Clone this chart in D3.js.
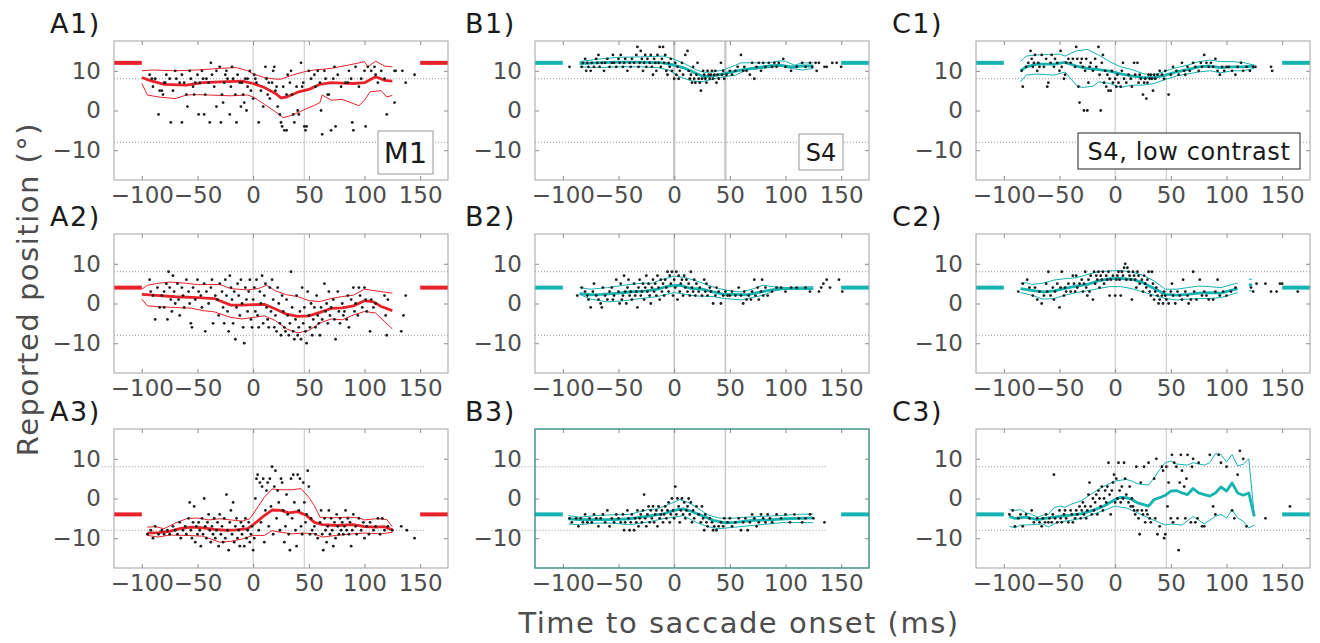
<!DOCTYPE html>
<html lang="en">
<head>
<meta charset="UTF-8">
<title>Reported position vs time to saccade onset</title>
<script src="https://d3js.org/d3.v7.min.js"></script>
<style>
  body { margin: 0; background: #fff; }
  text { font-family: "DejaVu Sans", Verdana, sans-serif; }
</style>
</head>
<body>
<script>
// ---- axes / reference values ----
const xTicks = [-100, -50, 0, 50, 100, 150];
const yTicks = [-10, 0, 10];
const targets = [12, 4, -4];        // target position, one per row
const saccadeLines = [0, 46];       // vertical reference lines (ms)
const boundLines = [8, -8];         // dotted horizontal lines (deg)

// ---- A: monkey M1 (red) ----
const a1Dots = [[-93,9],[-91,8],[-90,6],[-84,5],[-82,5],[-85,-1],[-81,4],[-79,7],[-78,9],[-74,-3],[-75,8],[-70,10],[-72,5],[-69,8],[-66,7],[-64,9],[-64,-3],[-60,4],[-59,1],[-57,10],[-56,8],[-54,6],[-53,4],[-49,-1],[-50,9],[-48,7],[-46,10],[-44,-1],[-43,4],[-42,8],[-39,-3],[-38,12],[-37,9],[-35,6],[-33,1],[-33,10],[-30,11],[-29,-3],[-28,4],[-27,2],[-24,10],[-23,8],[-21,-1],[-20,6],[-19,11],[-16,4],[-15,-3],[-14,9],[-12,7],[-11,1],[-9,4],[-8,2],[-7,8],[-6,0],[-5,6],[-3,10],[-2,5],[0,3],[1,9],[3,7],[5,-3],[7,5],[9,1],[11,11],[12,8],[13,4],[15,3],[17,7],[18,10],[19,11],[21,6],[22,1],[24,-1],[25,-3],[26,-4],[28,-5],[30,4],[30,-5],[31,9],[33,7],[34,10],[36,-1],[37,-3],[39,6],[40,0],[41,-1],[43,12],[44,6],[46,-4],[47,-5],[48,-4],[50,10],[52,8],[55,9],[56,6],[58,10],[61,0],[62,-6],[64,10],[67,4],[68,4],[70,-5],[73,11],[74,-4],[76,9],[79,6],[83,7],[86,10],[89,-3],[90,-5],[92,11],[95,6],[100,10],[101,-4],[103,11],[106,10],[109,11],[112,7],[115,10],[120,-1],[127,10],[128,10],[127,2],[134,10],[137,7],[145,9],
  [-88,8],[-62,7],[-52,7],[-40,7],[-26,7],[-18,8],[-10,7],[2,8],[14,7],[27,6],[45,7],[60,7],[72,8],[85,7],[97,8],[110,9],[-80,7],[-45,8],[-25,9],[-5,8],[20,5],[35,4],[65,8],[88,8],[118,8]];
const a1Mean = [[-100,8.3],[-93,7.6],[-80,6.6],[-60,6.4],[-45,7.0],[-30,7.2],[-10,7.4],[0,6.8],[10,5.8],[20,4.3],[25,3.2],[30,3.4],[40,4.6],[50,5.3],[60,6.6],[70,7.0],[80,6.9],[90,6.8],[100,7.0],[110,8.5],[118,7.6],[125,7.4]];
const a1Upper = [[-100,10],[-90,10.2],[-70,10],[-50,10.2],[-30,10.6],[-15,10.8],[-5,10],[0,9.2],[10,8.3],[20,7.9],[25,7.9],[35,8.9],[45,9.7],[55,10.2],[70,10.6],[85,11.4],[100,12.3],[103,11],[110,12.4],[118,11.2],[125,11]];
const a1Lower = [[-100,6.8],[-95,3.9],[-85,3.4],[-70,3],[-60,3.9],[-50,4],[-40,3.9],[-20,3.7],[-5,3.9],[0,3.4],[10,1.6],[20,-0.3],[27,-1.8],[35,-1.2],[45,0.1],[55,1.3],[60,2],[62,3.9],[70,2.6],[80,2.8],[95,1.2],[100,2.6],[105,4.7],[115,5],[120,3.4],[125,3.8]];

const a2Dots = [[-93,6],[-92,3],[-90,2],[-88,-4],[-86,4],[-84,-1],[-82,2],[-80,3],[-80,-1],[-78,5],[-77,-4],[-76,8],[-75,4],[-74,1],[-73,-2],[-72,7],[-71,3],[-70,0],[-68,5],[-67,1],[-66,-3],[-64,4],[-63,2],[-62,-1],[-60,6],[-58,3],[-57,0],[-56,-5],[-55,-6],[-54,4],[-52,1],[-50,6],[-49,3],[-47,2],[-46,-1],[-44,5],[-43,-7],[-42,3],[-40,0],[-38,4],[-37,6],[-36,-5],[-34,2],[-32,1],[-31,-3],[-30,5],[-28,3],[-27,-1],[-26,-5],[-25,6],[-24,2],[-23,-2],[-22,-7],[-21,7],[-20,4],[-19,1],[-18,-5],[-17,3],[-16,-9],[-15,-1],[-14,5],[-13,2],[-12,-3],[-11,6],[-10,0],[-9,-6],[-8,-10],[-7,4],[-6,1],[-5,-2],[-4,3],[-3,6],[-2,-4],[-1,-6],[0,1],[1,4],[2,-2],[3,6],[4,-3],[5,-6],[6,3],[7,0],[8,7],[9,-5],[10,2],[11,5],[12,-1],[13,-4],[14,-6],[15,4],[16,-2],[17,6],[18,1],[19,-6],[20,-3],[21,-7],[22,4],[23,0],[24,-5],[25,-8],[26,2],[27,-2],[28,-6],[29,-7],[30,1],[31,-3],[32,-8],[33,-5],[34,8],[35,-1],[36,-7],[37,-9],[38,-4],[39,2],[40,-8],[41,-6],[42,-2],[43,-9],[44,4],[45,-5],[46,-1],[47,-7],[48,-10],[49,3],[50,-3],[51,-6],[52,0],[53,-8],[54,-4],[55,-1],[56,-6],[57,2],[58,-3],[59,-5],[60,-8],[61,-1],[62,-4],[64,5],[65,-2],[66,0],[67,-5],[68,3],[69,-3],[70,-1],[72,1],[73,-4],[74,-9],[76,3],[77,-2],[78,-5],[80,0],[81,-3],[82,-2],[84,-4],[85,2],[86,-6],[88,1],[90,4],[91,-2],[92,0],[94,-3],[95,4],[96,2],[98,-1],[100,4],[101,1],[102,-2],[105,-7],[106,1],[108,-1],[110,0],[118,2],[119,-3],[120,-8],[121,1],[133,-7],[135,-3],[137,2]];
const a2Mean = [[-100,2.3],[-90,2.1],[-70,1.7],[-50,1.5],[-35,1.25],[-20,-0.4],[-10,-0.4],[0,-0.3],[10,-0.2],[20,-1.4],[30,-2.7],[40,-3.25],[50,-3.1],[60,-2.25],[70,-1.25],[80,-1.1],[90,-0.6],[100,0.7],[108,0.4],[115,-0.75],[125,-1.8]];
const a2Upper = [[-100,3.6],[-95,4.6],[-85,5.1],[-75,5.4],[-60,5.1],[-50,4.75],[-30,4.8],[-20,3.75],[-5,3.4],[5,3.8],[12,4.6],[20,3.2],[30,2.2],[40,1.75],[50,0.7],[60,0.5],[70,1.25],[80,1.75],[90,2.1],[100,3.6],[110,3.2],[125,2.6]];
const a2Lower = [[-100,1.1],[-95,-0.6],[-85,-0.8],[-70,-1],[-55,-1.2],[-45,-1.8],[-35,-2.1],[-20,-3.5],[-10,-3.9],[0,-3.5],[10,-3.1],[20,-4.3],[30,-6.4],[40,-7.4],[50,-6.8],[60,-4.9],[70,-3.9],[80,-4.1],[90,-2.9],[100,-2],[110,-2.4],[125,-6.4]];

const a3Dots = [[-95,-9],[-92,-8],[-90,-10],[-88,-7],[-85,-9],[-82,-8],[-80,-9],[-77,-8],[-75,-9],[-72,-7],[-70,-8],[-68,-9],[-66,-6],[-65,-10],[-63,-8],[-61,-7],[-60,-9],[-58,-5],[-57,-1],[-56,-8],[-55,-10],[-54,-6],[-53,-2],[-52,-11],[-51,-7],[-50,-9],[-49,-6],[-48,-8],[-47,-12],[-46,-5],[-45,-9],[-44,0],[-43,-7],[-42,-10],[-41,-6],[-40,-4],[-39,-8],[-38,-11],[-37,-7],[-36,-9],[-35,-5],[-34,-10],[-33,-8],[-32,-6],[-31,-12],[-30,-4],[-29,-9],[-28,-7],[-27,-11],[-26,-5],[-25,-10],[-24,1],[-23,-8],[-22,-13],[-21,-6],[-20,-3],[-19,-9],[-18,-1],[-17,-11],[-16,-7],[-15,-5],[-14,-10],[-13,-8],[-12,-12],[-11,-6],[-10,-9],[-9,-7],[-8,-12],[-7,-5],[-6,-10],[-5,-8],[-4,-6],[-3,-11],[-2,-9],[-1,-7],[0,-13],[1,-10],[2,0],[3,5],[4,6],[5,-8],[6,4],[7,-6],[8,3],[9,5],[10,-11],[11,-3],[12,2],[13,4],[14,-7],[15,5],[16,-2],[17,8],[18,-9],[19,3],[20,7],[21,-5],[22,2],[23,-1],[24,-8],[25,5],[26,4],[27,-3],[28,-11],[29,-7],[30,1],[31,-4],[32,-9],[33,-13],[34,5],[35,-5],[36,6],[37,-1],[38,-8],[39,-12],[40,6],[41,-3],[42,5],[43,-7],[44,-9],[45,4],[46,-1],[47,-6],[48,-4],[49,7],[50,3],[51,-9],[52,-5],[53,-8],[55,-7],[56,-9],[58,-10],[60,-6],[61,-3],[62,-9],[63,-13],[64,-5],[65,-8],[66,-11],[67,-7],[68,-3],[69,-9],[70,-5],[71,-8],[72,-12],[73,-6],[74,-10],[75,-4],[76,-7],[77,-9],[78,-5],[79,-8],[80,-6],[81,-9],[82,-7],[83,-3],[84,-8],[85,-5],[86,-9],[87,-6],[88,-12],[89,-8],[90,-4],[92,-7],[93,-9],[95,-5],[97,-8],[99,-6],[100,-10],[102,-7],[104,-9],[105,-6],[108,-8],[110,-7],[112,-5],[114,-9],[116,-5],[118,-8],[121,-7],[125,-8],[133,-7],[138,-8],[145,-10]];
const a3Mean = [[-95,-8.7],[-85,-8.6],[-75,-8.3],[-65,-7.5],[-55,-7.2],[-45,-7.4],[-35,-7.8],[-25,-8],[-15,-7.9],[-5,-7.6],[0,-6.6],[10,-4.3],[17,-2.9],[25,-3],[32,-3.6],[40,-3.3],[48,-4.3],[55,-6],[62,-6.6],[75,-6.8],[90,-6.6],[100,-7.1],[110,-7.2],[118,-7.1],[125,-7.9]];
const a3Upper = [[-95,-7.2],[-88,-7.1],[-80,-7.6],[-70,-6.2],[-60,-5.1],[-50,-4.9],[-40,-5.4],[-30,-5.1],[-20,-5.4],[-10,-5.7],[-3,-5.1],[0,-3.9],[5,-1.8],[10,0.3],[17,2.4],[25,2.2],[35,2.2],[43,2.5],[50,0.3],[55,-1.8],[60,-4.7],[70,-4.9],[85,-4.7],[95,-4.9],[100,-5.4],[110,-5.1],[120,-5.3],[125,-7.1]];
const a3Lower = [[-95,-9.3],[-85,-9.7],[-75,-9.2],[-60,-9.3],[-45,-9.5],[-30,-11],[-20,-10.8],[-10,-10.2],[0,-9.3],[10,-9.3],[17,-8.1],[25,-8.5],[35,-8.9],[45,-8.7],[55,-8.9],[62,-9.7],[75,-9.3],[90,-8.9],[100,-8.7],[115,-8.9],[125,-8.5]];

// ---- B: observer S4 (teal) ----
const b1Dots = [[-94,11],[-83,11],[-82,12],[-80,13],[-79,10],[-78,12],[-77,11],[-75,10],[-74,12],[-72,11],[-70,13],[-69,12],[-68,14],[-67,11],[-65,12],[-63,10],[-62,12],[-60,13],[-58,11],[-56,12],[-55,14],[-54,12],[-52,11],[-50,13],[-49,12],[-48,14],[-46,11],[-45,12],[-44,13],[-42,10],[-40,12],[-39,11],[-38,13],[-36,12],[-34,14],[-33,16],[-32,11],[-31,12],[-30,15],[-29,13],[-28,10],[-27,12],[-26,14],[-25,11],[-24,13],[-22,12],[-21,14],[-20,11],[-19,9],[-18,13],[-17,12],[-16,10],[-15,14],[-14,12],[-13,16],[-12,11],[-11,13],[-10,16],[-9,12],[-8,14],[-7,10],[-6,9],[-5,12],[-4,11],[-3,13],[-2,10],[0,8],[1,12],[2,9],[3,11],[4,8],[5,10],[7,12],[8,9],[10,14],[12,15],[13,10],[14,8],[15,9],[16,7],[17,11],[18,8],[19,7],[20,9],[21,12],[22,8],[23,7],[24,5],[25,8],[26,10],[27,9],[28,8],[29,7],[30,10],[31,9],[32,8],[33,9],[34,10],[35,8],[36,9],[37,10],[38,7],[39,9],[40,8],[42,12],[43,9],[44,10],[45,8],[47,9],[50,10],[52,9],[55,10],[57,11],[60,14],[62,10],[63,11],[65,10],[68,9],[70,12],[72,8],[74,11],[76,12],[78,10],[80,12],[82,11],[85,12],[88,11],[90,12],[92,11],[94,12],[98,13],[100,11],[105,10],[110,11],[115,12],[118,11],[122,12],[124,11],[127,12],[128,10],[130,12],[135,11],[137,11],[142,12],[146,12],[150,11]];
const b1Mean = [[-85,11.8],[-70,12],[-50,12.2],[-30,12.2],[-10,12],[0,11.4],[10,10.6],[20,9.3],[27,8.5],[35,8.7],[45,9.3],[55,9.9],[65,10.4],[75,10.8],[85,11.2],[95,11.4],[105,11],[115,11.2],[125,11.2]];
const b1Upper = [[-85,12.3],[-70,12.9],[-50,13.4],[-30,13.5],[-10,13.7],[0,12.9],[10,11.7],[20,10.2],[27,9.6],[35,9.7],[45,10.3],[55,11.4],[60,12],[70,12],[85,12],[95,12.5],[100,12.4],[108,11.4],[115,12],[125,12]];
const b1Lower = [[-85,11],[-70,10.8],[-50,11],[-30,11],[-15,10.8],[-5,10.2],[5,8.5],[15,7.5],[25,7.2],[30,7.6],[40,8.3],[55,8.9],[65,10.2],[80,10.6],[95,11.2],[105,10.6],[115,10.2],[125,10.6]];

const b2Dots = [[-87,2],[-83,4],[-80,3],[-78,2],[-77,1],[-75,-1],[-73,3],[-72,5],[-70,2],[-68,1],[-66,0],[-65,-1],[-64,4],[-62,2],[-60,1],[-58,3],[-56,4],[-55,1],[-54,2],[-52,6],[-50,3],[-49,0],[-48,5],[-47,1],[-46,2],[-45,7],[-44,3],[-43,0],[-42,4],[-41,6],[-40,2],[-39,3],[-38,1],[-36,5],[-35,2],[-34,3],[-33,-1],[-32,4],[-31,6],[-30,2],[-29,3],[-28,5],[-27,1],[-26,4],[-25,7],[-24,3],[-23,5],[-22,2],[-21,0],[-20,4],[-19,6],[-18,3],[-17,5],[-16,2],[-15,7],[-14,4],[-13,1],[-12,6],[-11,3],[-10,5],[-9,2],[-8,6],[-7,4],[-6,8],[-5,3],[-4,7],[-3,5],[-2,8],[-1,2],[0,6],[1,4],[2,8],[3,1],[4,7],[5,3],[6,5],[7,6],[8,2],[9,7],[10,4],[11,6],[12,3],[13,5],[14,2],[15,8],[16,4],[17,3],[18,6],[19,2],[20,5],[22,3],[23,4],[25,2],[27,6],[28,3],[29,5],[30,2],[32,4],[33,3],[35,0],[37,2],[38,4],[40,3],[42,0],[44,2],[46,3],[48,2],[50,2],[52,3],[55,2],[58,4],[60,2],[62,0],[63,3],[65,1],[67,2],[69,1],[70,3],[72,6],[73,2],[75,4],[76,1],[78,3],[79,6],[80,2],[82,4],[84,2],[88,3],[92,4],[96,4],[100,3],[105,4],[110,4],[118,4],[122,3],[130,3],[132,4],[134,5],[137,6],[140,4],[148,6],[151,3]];
const b2Mean = [[-85,2.5],[-75,2.2],[-65,2.3],[-50,2.6],[-40,2.9],[-25,3.2],[-15,3.6],[-5,4.4],[5,4.6],[15,3.8],[25,3.6],[35,2.9],[45,2.3],[55,2.3],[65,2.2],[75,2.75],[85,3.3],[95,3.75],[110,3.75],[125,3.75]];
const b2Upper = [[-85,4],[-75,3.6],[-60,4],[-45,4.6],[-30,5.1],[-20,5.1],[-10,6.1],[0,6.9],[10,6.5],[20,5.7],[30,4.6],[40,3.75],[50,3.2],[60,2.9],[70,3.6],[80,4.6],[90,4.2],[100,4],[125,4.25]];
const b2Lower = [[-85,2.3],[-75,1.1],[-60,0.4],[-45,0.7],[-30,1.25],[-15,1.75],[0,2.75],[10,2.3],[20,1.9],[35,1.75],[45,1.25],[60,0.9],[70,1.5],[80,2.1],[90,3.2],[100,3.6],[125,3.6]];

const b3Dots = [[-94,-5],[-92,-6],[-88,-5],[-86,-7],[-84,-5],[-82,-6],[-80,-4],[-78,-6],[-76,-5],[-74,-6],[-72,-4],[-70,-5],[-68,-7],[-66,-5],[-64,-4],[-62,-6],[-60,-3],[-58,-7],[-56,-5],[-54,-6],[-52,-4],[-50,-5],[-48,-6],[-46,-4],[-45,-8],[-44,-6],[-42,-3],[-41,-5],[-40,-8],[-39,-6],[-38,-4],[-36,-8],[-35,-5],[-34,-6],[-33,-3],[-32,-7],[-31,-5],[-30,-4],[-29,-6],[-28,-3],[-27,1],[-26,-5],[-25,-7],[-24,-4],[-23,-2],[-22,-6],[-21,-3],[-20,-5],[-19,-2],[-18,-6],[-17,-4],[-16,-3],[-15,-7],[-14,-2],[-13,-5],[-12,-4],[-11,-3],[-10,-6],[-9,-4],[-8,-2],[-7,-5],[-6,-3],[-5,-1],[-4,-6],[-3,-4],[-2,0],[-1,-3],[0,-5],[1,3],[2,-4],[3,0],[4,-2],[5,-6],[6,-3],[7,0],[8,-4],[9,-1],[10,-5],[11,-3],[12,-2],[13,0],[14,-4],[15,-1],[16,-6],[17,-3],[18,-5],[20,-2],[22,-4],[24,-6],[25,-2],[26,-5],[27,-8],[28,-4],[29,-6],[30,-7],[32,-5],[34,-6],[35,-8],[36,-7],[38,-8],[40,-7],[42,-6],[44,-7],[45,-5],[48,-6],[50,-5],[52,-7],[55,-6],[58,-5],[60,-8],[62,-6],[64,-5],[66,-8],[68,-6],[70,-4],[72,-5],[74,-7],[76,-6],[78,-4],[80,-5],[82,-6],[84,-4],[86,-5],[88,-6],[92,-4],[96,-5],[100,-4],[104,-6],[108,-4],[112,-5],[115,-6],[118,-5],[122,-4],[125,-5],[135,-6]];
const b3Mean = [[-95,-5.1],[-85,-5.3],[-70,-5.3],[-55,-5.3],[-40,-5.1],[-25,-4.5],[-10,-3.9],[0,-3],[8,-2.6],[15,-3.2],[25,-4.3],[35,-5.5],[45,-6.1],[55,-6],[70,-5.5],[85,-5.4],[100,-5.1],[125,-4.9]];
const b3Upper = [[-95,-4.3],[-85,-4.7],[-70,-4.3],[-55,-4.1],[-40,-4],[-25,-2.9],[-15,-2.6],[-5,-1.5],[5,-0.3],[12,-0.9],[20,-2.2],[30,-4.1],[40,-4.9],[50,-5],[65,-4.7],[80,-4.5],[95,-4.3],[110,-4],[125,-3.9]];
const b3Lower = [[-95,-6.4],[-85,-6.6],[-70,-6.2],[-55,-6.2],[-40,-6.6],[-25,-6],[-10,-5.1],[0,-4.7],[8,-4.3],[20,-6],[30,-7.1],[40,-7.6],[55,-7.2],[70,-6.8],[85,-6.4],[100,-6],[125,-6.1]];

// ---- C: observer S4, low contrast (teal) ----
const c1Dots = [[-83,6],[-84,10],[-80,11],[-78,12],[-76,15],[-75,13],[-74,11],[-73,12],[-72,14],[-70,10],[-69,12],[-68,11],[-66,14],[-64,11],[-62,13],[-61,6],[-60,7],[-58,12],[-57,14],[-55,11],[-54,13],[-52,12],[-50,10],[-49,15],[-48,11],[-46,8],[-45,9],[-44,12],[-42,13],[-40,12],[-38,13],[-36,11],[-35,16],[-34,13],[-33,6],[-32,2],[-31,12],[-30,13],[-29,11],[-28,0],[-27,10],[-26,13],[-25,0],[-24,7],[-23,11],[-22,12],[-20,10],[-18,13],[-17,11],[-15,16],[-14,9],[-13,0],[-12,12],[-11,14],[-10,7],[-9,10],[-8,6],[-7,9],[-6,5],[-5,8],[-4,5],[-3,10],[-2,7],[0,8],[1,6],[2,9],[3,7],[5,6],[6,10],[7,12],[8,8],[10,7],[12,9],[14,8],[15,6],[17,12],[18,9],[20,12],[21,7],[22,9],[23,8],[25,4],[26,7],[27,8],[28,3],[29,7],[30,9],[31,8],[32,9],[33,8],[34,5],[35,9],[36,8],[38,9],[40,10],[42,9],[44,8],[45,10],[48,4],[50,9],[52,11],[55,10],[57,9],[60,12],[62,10],[63,9],[65,11],[67,10],[70,12],[72,11],[75,10],[77,12],[78,11],[80,14],[82,12],[84,11],[86,12],[88,11],[90,13],[92,10],[94,9],[96,11],[98,10],[100,11],[102,11],[105,10],[108,9],[110,11],[113,12],[115,10],[118,11],[121,10],[124,11],[126,11],[140,11],[141,10]];
const c1Mean = [[-85,10],[-80,11],[-70,11.7],[-55,11.7],[-45,12.1],[-35,11.2],[-25,10.6],[-15,10.3],[-5,9.9],[5,9.2],[15,8.7],[25,8.3],[35,8.3],[45,8.9],[55,9.7],[65,10.3],[75,11],[85,11.2],[95,10.8],[105,11],[115,11],[125,11.2]];
const c1Upper = [[-85,12.3],[-80,13.7],[-70,14],[-60,14.1],[-50,14.2],[-45,13.7],[-35,15],[-25,15.4],[-15,14],[-5,12.3],[5,11],[15,10.3],[25,9.3],[35,8.9],[45,9.9],[55,10.8],[65,11.4],[75,12.3],[85,12.7],[95,12.3],[105,12.3],[115,12.1],[125,11.4]];
const c1Lower = [[-85,7.2],[-80,8.9],[-70,9.2],[-55,8.9],[-45,9.7],[-35,6.4],[-30,5.8],[-20,6.1],[-15,7.2],[-5,6.8],[5,5.8],[15,6.4],[25,6.4],[35,6.8],[45,7.8],[55,8.7],[65,9.2],[75,9.7],[85,10],[95,9.5],[105,10],[115,10],[125,10.6]];

const c2Dots = [[-87,3],[-83,5],[-79,6],[-77,4],[-74,2],[-72,4],[-70,1],[-68,3],[-66,0],[-64,2],[-62,5],[-61,3],[-60,8],[-58,2],[-56,4],[-55,1],[-54,3],[-52,5],[-50,-1],[-49,4],[-48,8],[-46,2],[-45,4],[-44,3],[-42,5],[-40,3],[-38,7],[-37,5],[-36,3],[-35,7],[-34,4],[-32,5],[-30,6],[-29,3],[-28,5],[-27,8],[-26,4],[-25,2],[-24,6],[-23,3],[-22,7],[-20,1],[-19,8],[-18,5],[-17,7],[-16,6],[-15,8],[-14,4],[-13,7],[-12,6],[-11,8],[-10,5],[-8,7],[-7,6],[-6,8],[-5,2],[-4,6],[-2,7],[0,2],[1,6],[2,7],[3,8],[4,6],[5,2],[6,8],[7,7],[8,9],[9,10],[10,6],[11,9],[12,8],[13,7],[14,6],[15,1],[16,8],[17,7],[18,6],[19,4],[20,8],[21,7],[22,5],[24,6],[25,3],[26,7],[27,5],[28,4],[29,6],[30,8],[31,3],[32,2],[33,8],[34,5],[35,1],[36,3],[37,4],[38,2],[39,0],[40,1],[42,2],[43,0],[44,3],[45,2],[46,1],[48,0],[50,3],[51,5],[52,2],[54,0],[56,3],[58,2],[60,1],[61,6],[63,3],[65,2],[66,0],[68,1],[70,8],[71,3],[73,1],[76,6],[78,2],[80,3],[82,2],[84,1],[88,1],[90,3],[92,6],[94,2],[97,3],[100,2],[104,3],[108,4],[122,4],[124,3],[127,5],[135,5],[140,3],[145,3],[148,5],[150,5],[164,3]];
const c2Mean = [[-85,3.75],[-75,3.3],[-65,2.9],[-55,3.2],[-45,3.8],[-35,4.4],[-25,4.8],[-15,5.7],[-5,6.25],[5,6.3],[15,6.1],[25,5.25],[35,3.75],[45,2.3],[55,2.1],[65,2.3],[75,2.6],[85,2.75],[95,2.6],[105,3.4],[110,3.75],null,[120,4.7],[123,4.7]];
const c2Upper = [[-85,5.1],[-80,5.25],[-75,4.8],[-65,5.1],[-55,5.9],[-45,6.25],[-35,6.5],[-25,7.3],[-15,8],[-5,8.2],[5,8.3],[15,7.9],[25,7.1],[35,5.7],[45,3.6],[55,3.6],[65,4],[75,4.4],[85,4.25],[95,4],[105,4.8],[110,5.1],null,[120,6.1],[123,6.1]];
const c2Lower = [[-85,2.75],[-75,2.1],[-65,1.1],[-55,1.25],[-45,2.1],[-35,2.75],[-25,3.2],[-15,3.75],[-5,4.25],[5,4.25],[15,3.75],[25,2.9],[35,2.1],[45,1.25],[55,0.9],[65,1.1],[75,1.25],[85,1.25],[95,1.5],[105,2.3],[110,2.75],null,[120,3.2],[123,3.2]];

const c3Dots = [[-95,-4],[-92,-3],[-90,-7],[-87,-5],[-85,-4],[-83,-7],[-80,-4],[-77,-5],[-75,-3],[-73,-6],[-70,-5],[-68,-6],[-66,-7],[-65,-5],[-63,-6],[-62,-4],[-60,-6],[-59,-5],[-57,-6],[-56,-4],[-55,6],[-54,-5],[-52,-6],[-50,-3],[-49,-5],[-48,-6],[-46,-4],[-45,-3],[-44,-5],[-42,-6],[-40,-3],[-39,-4],[-38,-6],[-36,-5],[-35,-3],[-34,-4],[-32,-2],[-31,-5],[-30,-3],[-29,-1],[-28,-4],[-27,-2],[-26,-5],[-25,-3],[-24,1],[-23,4],[-22,-2],[-21,-4],[-20,0],[-19,-3],[-18,-1],[-17,1],[-16,-4],[-15,2],[-14,0],[-13,-2],[-12,3],[-11,-3],[-10,0],[-9,2],[-8,-1],[-7,3],[-6,9],[-5,1],[-4,-4],[-3,2],[-2,4],[-1,6],[0,-1],[1,5],[2,0],[3,9],[4,2],[5,-1],[6,3],[7,0],[8,9],[9,5],[10,1],[12,-1],[13,3],[14,-2],[15,0],[16,-2],[17,-3],[18,-4],[19,8],[20,-3],[21,-5],[22,-9],[23,4],[24,-3],[25,-4],[26,8],[27,-6],[28,-3],[29,-4],[30,9],[31,-5],[32,-6],[35,5],[36,-5],[37,10],[38,-9],[40,-7],[42,8],[43,7],[44,-10],[45,-9],[46,8],[47,-2],[48,4],[50,-5],[51,11],[52,-6],[53,9],[55,8],[56,-5],[57,-13],[58,4],[59,11],[60,7],[62,3],[63,-5],[64,5],[65,11],[68,-6],[69,8],[70,10],[72,-6],[74,-5],[75,9],[78,-7],[80,-7],[85,11],[88,-2],[90,-4],[93,11],[95,9],[100,8],[105,-3],[107,-5],[110,6],[112,12],[115,10],[118,-7],[135,-5],[157,-2]];
const c3Mean = [[-95,-4.5],[-90,-5],[-80,-4.7],[-70,-5.3],[-60,-4.9],[-50,-4.5],[-40,-4.2],[-30,-3.8],[-20,-3],[-10,-1.9],[0,-0.25],[5,0.3],[10,0.2],[15,-0.25],[20,-1.1],[25,-1.5],[30,-1.9],[35,-0.25],[40,0.2],[45,0.8],[50,1.85],[55,2],[60,1.4],[65,1],[70,2.5],[75,1.4],[80,1],[85,0.6],[90,1.4],[95,2.9],[100,1.85],[105,3.9],[110,1.4],[115,0.8],[120,1.4],[125,-4.5]];
const c3Upper = [[-95,-2.8],[-90,-3],[-85,-2.8],[-80,-3.6],[-75,-4],[-70,-4.7],[-65,-4.2],[-60,-4],[-55,-2.35],[-50,-1.9],[-45,-2.2],[-40,-1.5],[-30,-0.5],[-20,1.4],[-10,3.1],[0,4.4],[10,4.8],[15,4.4],[20,3.7],[30,3.4],[35,5.2],[40,7.3],[45,9],[50,9.4],[55,8.7],[65,8.4],[70,9],[80,8.4],[85,9],[90,11.3],[95,11.1],[100,9.2],[105,11.1],[110,8.2],[115,8.6],[120,10],[125,-4.5]];
const c3Lower = [[-95,-7],[-90,-7.4],[-85,-6.7],[-75,-6.6],[-65,-6.4],[-60,-7.2],[-55,-6.4],[-50,-5.9],[-40,-5.5],[-30,-5],[-20,-4],[-10,-3],[0,-1.9],[5,-2.2],[10,-2.35],[20,-3.6],[30,-4.9],[40,-6.1],[45,-6.7],[50,-6.4],[60,-6.7],[70,-4.5],[80,-6.4],[90,-4.5],[95,-4],[100,-4.9],[105,-2.8],[110,-4.9],[115,-5.7],[120,-7.4],[125,-6.7]];

// ---- layout ----
const red = "#e8222a", teal = "#15b3b1";
const colLeft = [114, 535, 976], rowTop = [41, 234, 429];
const labelX = [50, 465, 892];
const W = 334, H = 139;

const panels = [
  {col: 0, row: 0, name: "A1)", color: red, dots: a1Dots, mean: a1Mean, upper: a1Upper, lower: a1Lower,
   legend: {text: "M1", x: 264, y: 90, w: 55, h: 43, size: 29, stroke: "#999"}},
  {col: 0, row: 1, name: "A2)", color: red, dots: a2Dots, mean: a2Mean, upper: a2Upper, lower: a2Lower},
  {col: 0, row: 2, name: "A3)", color: red, dots: a3Dots, mean: a3Mean, upper: a3Upper, lower: a3Lower, dotted: [-136, 154]},
  {col: 1, row: 0, name: "B1)", color: teal, dots: b1Dots, mean: b1Mean, upper: b1Upper, lower: b1Lower,
   legend: {text: "S4", x: 264, y: 93, w: 44, h: 36, size: 24, stroke: "#999"}, vline: "#c4c4c4", vwidth: 2.2},
  {col: 1, row: 1, name: "B2)", color: teal, dots: b2Dots, mean: b2Mean, upper: b2Upper, lower: b2Lower, vline: "#c8c8c8", vwidth: 1.6},
  {col: 1, row: 2, name: "B3)", color: teal, dots: b3Dots, mean: b3Mean, upper: b3Upper, lower: b3Lower, dotted: [-164, 136],
   border: "#3a8a84", vline: "#c8c8c8", vwidth: 1.4},
  {col: 2, row: 0, name: "C1)", color: teal, dots: c1Dots, mean: c1Mean, upper: c1Upper, lower: c1Lower,
   legend: {text: "S4, low contrast", x: 102, y: 92, w: 222, h: 36, size: 24, spacing: 0.6, stroke: "#222"}},
  {col: 2, row: 1, name: "C2)", color: teal, dots: c2Dots, mean: c2Mean, upper: c2Upper, lower: c2Lower},
  {col: 2, row: 2, name: "C3)", color: teal, dots: c3Dots, mean: c3Mean, upper: c3Upper, lower: c3Lower}
];

const svg = d3.select("body").append("svg")
  .attr("width", 1320).attr("height", 643);

const fmt = d => d < 0 ? "\u2212" + Math.abs(d) : String(d);

panels.forEach((p, i) => {
  const left = colLeft[p.col], top = rowTop[p.row];
  const x = d3.scaleLinear().domain([-125, 175]).range([0, W]);
  const y = d3.scaleLinear().domain([-17.5, 17.5]).range([H, 0]);
  const g = svg.append("g").attr("transform", `translate(${left},${top})`);

  g.append("clipPath").attr("id", "clip" + i)
    .append("rect").attr("width", W).attr("height", H);

  // panel name
  svg.append("text").attr("x", labelX[p.col]).attr("y", top - 8)
    .attr("font-size", 27).attr("letter-spacing", 1.5).attr("fill", "#1a1a1a").text(p.name);

  // dotted bound lines
  const dx = p.dotted ? p.dotted : [-125, 175];
  g.selectAll(".bound").data(boundLines).enter().append("line")
    .attr("x1", x(dx[0])).attr("x2", x(dx[1]))
    .attr("y1", d => y(d)).attr("y2", d => y(d))
    .attr("stroke", "#8a8a8a").attr("stroke-width", 0.9).attr("stroke-dasharray", "1,2");

  // saccade reference lines
  g.selectAll(".vref").data(saccadeLines).enter().append("line")
    .attr("x1", d => x(d)).attr("x2", d => x(d)).attr("y1", 0).attr("y2", H)
    .attr("stroke", p.vline || "#d2d2d2").attr("stroke-width", p.vwidth || 1.3);

  // target position marks at both sides
  g.selectAll(".target").data([[-125, -100], [150, 175]]).enter().append("line")
    .attr("x1", d => x(d[0])).attr("x2", d => x(d[1]))
    .attr("y1", y(targets[p.row])).attr("y2", y(targets[p.row]))
    .attr("stroke", p.color).attr("stroke-width", 4);

  const plot = g.append("g").attr("clip-path", `url(#clip${i})`);
  const line = d3.line().defined(d => d !== null).x(d => x(d[0])).y(d => y(d[1]));

  [[p.upper, 1], [p.lower, 1], [p.mean, 2.8]].forEach(([s, w]) => {
    plot.append("path").datum(s).attr("d", line)
      .attr("fill", "none").attr("stroke", p.color).attr("stroke-width", w)
      .attr("stroke-linejoin", "round");
  });

  plot.selectAll(".dot").data(p.dots).enter().append("circle")
    .attr("cx", d => x(d[0])).attr("cy", d => y(d[1])).attr("r", 1.4)
    .attr("fill", "#1c1c1c");

  // axes with inward ticks on all four sides
  const axCol = "#4d4d4d";
  const bottom = g.append("g").attr("transform", `translate(0,${H})`)
    .call(d3.axisBottom(x).tickValues(xTicks).tickSizeInner(-4).tickSizeOuter(0).tickPadding(7).tickFormat(fmt));
  const topAx = g.append("g")
    .call(d3.axisTop(x).tickValues(xTicks).tickSizeInner(-4).tickSizeOuter(0).tickFormat(""));
  const leftAx = g.append("g")
    .call(d3.axisLeft(y).tickValues(yTicks).tickSizeInner(-4).tickSizeOuter(0).tickPadding(13).tickFormat(fmt));
  const rightAx = g.append("g").attr("transform", `translate(${W},0)`)
    .call(d3.axisRight(y).tickValues(yTicks).tickSizeInner(-4).tickSizeOuter(0).tickFormat(""));
  [bottom, topAx, leftAx, rightAx].forEach(a => {
    a.select(".domain").remove();
    a.selectAll(".tick line").attr("stroke", "#8c8c8c");
    a.selectAll("text").attr("font-size", 23).attr("fill", axCol)
      .attr("font-family", "DejaVu Sans, Verdana, sans-serif");
  });

  g.append("rect").attr("width", W).attr("height", H)
    .attr("fill", "none").attr("stroke", p.border || "#a3a3a3").attr("stroke-width", p.border ? 1.4 : 1);

  if (p.legend) {
    const L = p.legend;
    g.append("rect").attr("x", L.x).attr("y", L.y).attr("width", L.w).attr("height", L.h)
      .attr("fill", "#fff").attr("stroke", L.stroke);
    g.append("text").attr("x", L.x + L.w / 2).attr("y", L.y + L.h / 2)
      .attr("dy", "0.36em").attr("text-anchor", "middle")
      .attr("letter-spacing", L.spacing || 0)
      .attr("font-size", L.size).attr("fill", "#1a1a1a").text(L.text);
  }
});

// shared axis titles
svg.append("text").attr("x", 739).attr("y", 633).attr("text-anchor", "middle")
  .attr("font-size", 29).attr("letter-spacing", 1.5).attr("fill", "#4d4d4d")
  .text("Time to saccade onset (ms)");
svg.append("text").attr("transform", "translate(38,289) rotate(-90)")
  .attr("text-anchor", "middle").attr("font-size", 29).attr("letter-spacing", 1.5)
  .attr("fill", "#4d4d4d").text("Reported position (°)");
</script>
</body>
</html>
